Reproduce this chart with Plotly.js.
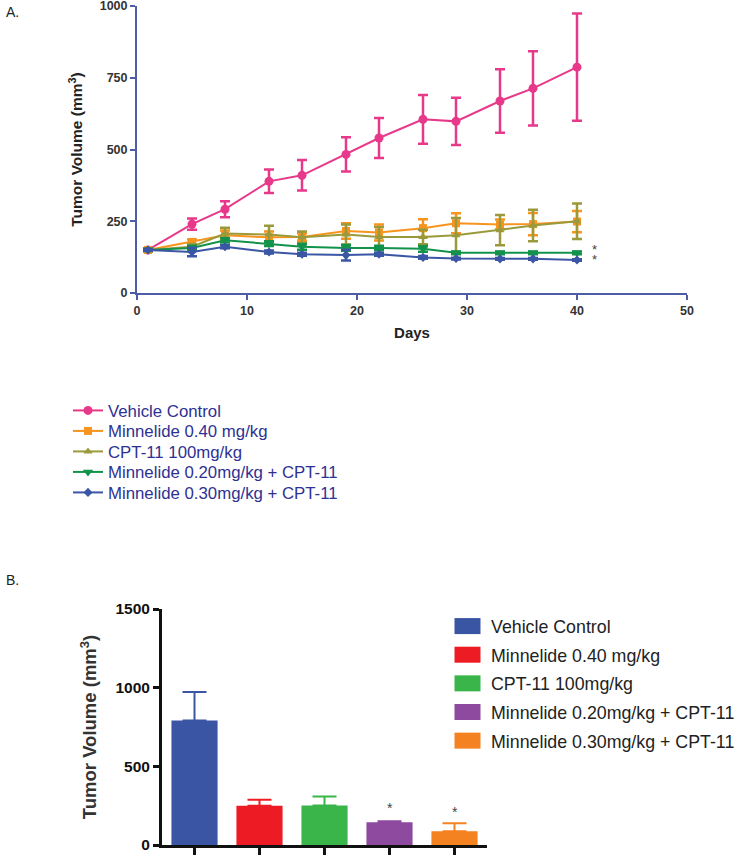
<!DOCTYPE html>
<html>
<head>
<meta charset="utf-8">
<script src="https://cdn.plot.ly/plotly-3.0.1.min.js"></script>
<style>html,body{margin:0;padding:0;background:#fff;}#chart{width:738px;height:855px;}</style>
</head>
<body>
<div id="chart"></div>
<script>
// ---- Panel A: tumor volume over time ----
const days = [1, 5, 8, 12, 15, 19, 22, 26, 29, 33, 36, 40];
const seriesNames = ['Vehicle Control', 'Minnelide 0.40 mg/kg', 'CPT-11 100mg/kg', 'Minnelide 0.20mg/kg + CPT-11', 'Minnelide 0.30mg/kg + CPT-11'];
const vehicle    = [150, 240, 292, 389, 410, 483, 540, 605, 598, 669, 713, 787];
const vehicleErr = [5, 20, 28, 41, 53, 60, 70, 85, 82, 111, 129, 187];
const minn040    = [150, 178, 201, 194, 195, 216, 211, 226, 243, 239, 240, 249];
const minn040Err = [5, 8, 17, 20, 13, 27, 28, 31, 35, 17, 39, 37];
const cpt11      = [150, 161, 207, 204, 194, 204, 195, 195, 201, 219, 235, 250];
const cpt11Err   = [5, 10, 20, 30, 20, 35, 35, 25, 60, 53, 55, 62];
const combo020    = [150, 157, 184, 172, 161, 157, 157, 154, 140, 140, 140, 140];
const combo020Err = [3, 8, 8, 8, 10, 10, 8, 10, 5, 5, 5, 5];
const combo030    = [150, 143, 161, 143, 135, 132, 135, 124, 120, 119, 119, 115];
const combo030Err = [3, 15, 5, 5, 5, 19, 5, 5, 3, 3, 3, 3];
const xTicksA = [0, 10, 20, 30, 40, 50];
const yTicksA = [0, 250, 500, 750, 1000];
const starsA = [{x: 41.2, y: 153}, {x: 41.2, y: 118}];

// ---- Panel B: final tumor volume ----
const groups = ['Vehicle Control', 'Minnelide 0.40 mg/kg', 'CPT-11 100mg/kg', 'Minnelide 0.20mg/kg + CPT-11', 'Minnelide 0.30mg/kg + CPT-11'];
const barValues = [792, 250, 251, 145, 87];
const barErr    = [180, 37, 58, 6, 51];
const yTicksB = [0, 500, 1000, 1500];
const starsB = [{i: 3, y: 237}, {i: 4, y: 209}];

// styles
const lineColors = ['#e8388a', '#f7941d', '#9a9a3c', '#12924a', '#3b56a5'];
const lineSymbols = ['circle', 'square', 'triangle-up', 'triangle-down', 'diamond'];
const lineSizes = [9, 8, 8, 9, 7];
const barColors = ['#3a55a4', '#ed1c24', '#39b54a', '#8e4a9e', '#f58220'];
const axisBlue = '#4d5da6';
const FONT = 'Liberation Sans, Arial, sans-serif';
const LEGEND_A_ROW = 20.5;

const yData = [vehicle, minn040, cpt11, combo020, combo030];
const eData = [vehicleErr, minn040Err, cpt11Err, combo020Err, combo030Err];

const traces = [];
seriesNames.forEach((name, k) => {
  traces.push({
    type: 'scatter', mode: 'lines+markers', name: name,
    x: days, y: yData[k],
    xaxis: 'x', yaxis: 'y', legend: 'legend',
    line: {color: lineColors[k], width: 2},
    marker: {color: lineColors[k], symbol: lineSymbols[k], size: lineSizes[k]},
    error_y: {type: 'data', array: eData[k], visible: true, color: lineColors[k], thickness: 2.5, width: 5},
    cliponaxis: false
  });
});
groups.forEach((name, i) => {
  traces.push({
    type: 'bar', name: name, x: [i], y: [barValues[i]],
    xaxis: 'x2', yaxis: 'y2', legend: 'legend2', legendgroup: 'b' + i,
    width: 0.71,
    marker: {color: barColors[i], line: {width: 0}},
    error_y: {type: 'data', array: [barErr[i]], arrayminus: [0], symmetric: false, visible: true, color: barColors[i], thickness: 2, width: 12}
  });
});

const annotations = [
  {text: 'A.', xref: 'paper', yref: 'paper', x: 4/738, y: 1 - 12/855, xanchor: 'left', yanchor: 'middle', showarrow: false, font: {size: 14, color: '#222', family: FONT}},
  {text: 'B.', xref: 'paper', yref: 'paper', x: 4/738, y: 1 - 580/855, xanchor: 'left', yanchor: 'middle', showarrow: false, font: {size: 14, color: '#222', family: FONT}}
];
starsA.forEach(s => annotations.push({text: '*', xref: 'x', yref: 'y', x: s.x, y: s.y, showarrow: false, xanchor: 'left', yanchor: 'middle', font: {size: 13, color: '#444', family: FONT}}));
starsB.forEach(s => annotations.push({text: '*', xref: 'x2', yref: 'y2', x: s.i, y: s.y, showarrow: false, xanchor: 'center', yanchor: 'middle', font: {size: 14, color: '#444', family: FONT}}));

const layout = {
  width: 738, height: 855,
  margin: {l: 0, r: 0, t: 0, b: 0, autoexpand: false},
  paper_bgcolor: '#fff', plot_bgcolor: 'rgba(0,0,0,0)',
  font: {family: FONT},
  barmode: 'overlay',
  xaxis: {
    domain: [137/738, 687/738], anchor: 'y', range: [0, 50],
    tickvals: xTicksA, ticks: 'outside', ticklen: 5, tickwidth: 2, tickcolor: axisBlue,
    showline: true, linecolor: axisBlue, linewidth: 2, showgrid: false, zeroline: false,
    ticklabeloverflow: 'allow', automargin: false,
    tickfont: {size: 12.5, color: '#333', weight: 'bold', family: FONT},
    title: {text: 'Days', font: {size: 15, color: '#222', weight: 'bold', family: FONT}, standoff: 10}
  },
  yaxis: {
    domain: [1 - 293/855, 1 - 6/855], anchor: 'x', range: [0, 1000],
    tickvals: yTicksA, ticks: 'outside', ticklen: 5, tickwidth: 2, tickcolor: axisBlue,
    showline: true, linecolor: axisBlue, linewidth: 2, showgrid: false, zeroline: false,
    ticklabeloverflow: 'allow', automargin: false,
    tickfont: {size: 12.5, color: '#333', weight: 'bold', family: FONT},
    title: {text: 'Tumor Volume (mm<sup>3</sup>)', font: {size: 15.5, color: '#222', weight: 'bold', family: FONT}, standoff: 13}
  },
  xaxis2: {
    domain: [162/738, 487/738], anchor: 'y2', range: [-0.5, 4.5],
    tickvals: [0, 1, 2, 3, 4], showticklabels: false, automargin: false,
    ticks: 'outside', ticklen: 8, tickwidth: 3, tickcolor: '#111',
    showline: true, linecolor: '#111', linewidth: 3, showgrid: false, zeroline: false
  },
  yaxis2: {
    domain: [1 - 845/855, 1 - 609/855], anchor: 'x2', range: [0, 1500],
    tickvals: yTicksB, ticks: 'outside', ticklen: 6, tickwidth: 3, tickcolor: '#111',
    showline: true, linecolor: '#111', linewidth: 3, showgrid: false, zeroline: false,
    ticklabeloverflow: 'allow', automargin: false,
    tickfont: {size: 15.5, color: '#111', weight: 'bold', family: FONT},
    title: {text: 'Tumor Volume (mm<sup>3</sup>)', font: {size: 18.5, color: '#333', weight: 'bold', family: FONT}, standoff: 14}
  },
  legend: {
    x: 68/738, y: 1 - 393/855, xanchor: 'left', yanchor: 'top',
    bgcolor: 'rgba(0,0,0,0)', borderwidth: 0,
    font: {size: 16.8, color: '#2e3192', family: FONT},
    tracegroupgap: 0, itemclick: false
  },
  legend2: {
    x: 444/738, y: 1 - 608/855, xanchor: 'left', yanchor: 'top',
    bgcolor: 'rgba(0,0,0,0)', borderwidth: 0, itemwidth: 37,
    font: {size: 17.8, color: '#222', family: FONT},
    tracegroupgap: 2.5, itemclick: false
  },
  annotations: annotations,
  showlegend: true
};

Plotly.newPlot('chart', traces, layout, {displayModeBar: false, staticPlot: true}).then(() => {
  // tighten row spacing of the panel A legend to match the reference
  const rows = document.querySelectorAll('g.legend g.traces');
  if (rows.length) {
    const m = /translate\(\s*([-\d.]+)[ ,]+([-\d.]+)\s*\)/.exec(rows[0].getAttribute('transform') || '');
    if (m) {
      const x0 = parseFloat(m[1]), y0 = parseFloat(m[2]);
      rows.forEach((r, i) => r.setAttribute('transform', 'translate(' + x0 + ',' + (y0 + i * LEGEND_A_ROW) + ')'));
    }
  }
  // enlarge the bar legend swatches to the reference's wide rectangles
  document.querySelectorAll('g.legend2 g.legendpoints path').forEach(p => {
    p.setAttribute('d', 'M13,8H-13V-8H13Z');
  });
});
</script>
</body>
</html>
